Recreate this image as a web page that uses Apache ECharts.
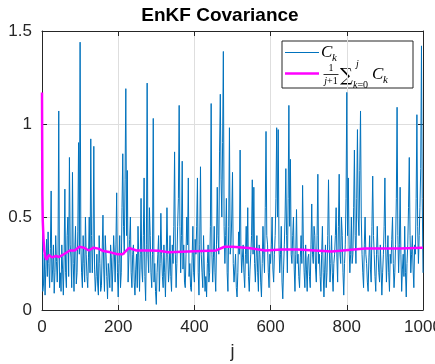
<!DOCTYPE html>
<html>
<head>
<meta charset="utf-8">
<script src="https://cdn.jsdelivr.net/npm/echarts@6/dist/echarts.min.js"></script>
<style>
  html, body { margin: 0; padding: 0; background: #fff; }
  #chart { width: 435px; height: 364px; }
</style>
</head>
<body>
<div id="chart"></div>
<script>
// C_k, read every 2nd step (j = 0, 2, 4, ... 1000)
const stepJ = 2;
const covValues = [
  1.15, 0.10, 0.14, 0.30, 0.08, 0.22, 0.38, 0.18, 0.42, 0.25, 0.12, 0.33, 0.64, 0.15, 0.22, 0.35, 0.09, 0.20, 0.40, 0.26,
  0.15, 0.30, 1.07, 0.12, 0.20, 0.10, 0.35, 0.22, 0.08, 0.28, 0.65, 0.20, 0.12, 0.40, 0.50, 0.18, 0.82, 0.35, 0.28, 0.12,
  0.74, 0.25, 0.10, 0.32, 0.45, 0.14, 0.20, 0.42, 0.90, 0.30, 1.44, 0.35, 0.20, 0.12, 0.40, 0.25, 0.15, 0.50, 0.30, 0.18,
  0.12, 0.28, 0.50, 0.20, 0.92, 0.40, 0.20, 0.35, 0.88, 0.22, 0.10, 0.18, 0.30, 0.14, 0.08, 0.40, 0.25, 0.10, 0.13, 0.32,
  0.51, 0.22, 0.10, 0.40, 0.30, 0.18, 0.06, 0.25, 0.20, 0.12, 0.35, 0.28, 0.10, 0.22, 0.40, 0.30, 0.15, 0.35, 0.63, 0.20,
  0.07, 0.25, 0.40, 0.12, 0.20, 0.55, 0.84, 0.45, 0.30, 0.70, 1.19, 0.40, 0.75, 0.15, 0.28, 0.38, 0.50, 0.20, 0.12, 0.30,
  0.35, 0.15, 0.08, 0.22, 0.30, 0.12, 0.45, 0.28, 0.10, 0.30, 0.60, 0.22, 0.15, 0.40, 0.71, 0.18, 0.05, 0.35, 1.22, 0.30,
  0.20, 0.55, 0.40, 0.20, 0.12, 0.30, 1.03, 0.15, 0.25, 0.10, 0.03, 0.20, 0.30, 0.40, 0.10, 0.25, 0.52, 0.30, 0.18, 0.12,
  0.35, 0.20, 0.07, 0.28, 0.55, 0.30, 0.15, 0.22, 0.40, 0.18, 0.10, 0.35, 0.25, 0.45, 0.85, 0.30, 0.12, 0.25, 0.45, 0.60,
  1.10, 0.45, 0.20, 0.40, 0.80, 0.22, 0.35, 0.15, 0.12, 0.30, 0.50, 0.35, 0.71, 0.18, 0.25, 0.12, 0.10, 0.28, 0.45, 0.20,
  0.15, 0.38, 0.30, 0.45, 0.71, 0.20, 0.08, 0.35, 0.77, 0.30, 0.20, 0.12, 0.40, 0.22, 0.10, 0.18, 0.07, 0.25, 0.35, 0.15,
  0.20, 0.45, 1.11, 0.30, 0.15, 0.28, 0.45, 0.20, 0.10, 0.35, 0.66, 0.40, 0.30, 0.85, 1.16, 0.70, 0.50, 0.90, 1.39, 0.45,
  0.25, 0.40, 0.60, 0.20, 0.10, 0.45, 0.98, 0.30, 0.35, 0.50, 0.74, 0.25, 0.15, 0.22, 0.30, 0.12, 0.07, 0.20, 0.42, 0.30,
  0.86, 0.35, 0.20, 0.28, 0.35, 0.20, 0.12, 0.30, 0.45, 0.25, 0.55, 0.18, 0.10, 0.22, 0.30, 0.40, 0.70, 0.30, 0.66, 0.25,
  0.15, 0.28, 0.40, 0.20, 0.10, 0.35, 0.30, 0.15, 0.07, 0.25, 0.45, 0.30, 0.20, 0.55, 0.96, 0.40, 0.35, 0.20, 0.12, 0.30,
  0.25, 0.35, 0.50, 0.22, 0.15, 0.30, 0.40, 0.60, 0.98, 0.50, 0.97, 0.35, 0.20, 0.30, 0.45, 0.15, 0.06, 0.22, 0.35, 0.50,
  0.76, 0.40, 0.20, 0.60, 1.10, 0.45, 0.81, 0.30, 0.25, 0.40, 0.50, 0.22, 0.10, 0.30, 0.54, 0.25, 0.30, 0.18, 0.12, 0.28,
  0.40, 0.25, 0.67, 0.35, 0.20, 0.12, 0.35, 0.22, 0.10, 0.28, 0.30, 0.18, 0.12, 0.35, 0.57, 0.30, 0.25, 0.45, 0.40, 0.22,
  0.15, 0.40, 0.73, 0.25, 0.30, 0.18, 0.10, 0.30, 0.45, 0.20, 0.07, 0.22, 0.35, 0.12, 0.20, 0.40, 0.70, 0.35, 0.15, 0.25,
  0.40, 0.20, 0.10, 0.25, 0.30, 0.40, 0.55, 0.28, 0.15, 0.45, 0.73, 0.30, 0.25, 0.50, 0.40, 0.20, 0.08, 0.25, 0.35, 0.60,
  1.17, 0.40, 0.71, 0.35, 0.20, 0.30, 0.50, 0.25, 0.30, 0.55, 0.86, 0.40, 0.25, 0.60, 0.97, 0.50, 0.40, 0.75, 1.07, 0.50,
  0.30, 0.20, 0.12, 0.35, 0.50, 0.30, 0.25, 0.15, 0.10, 0.28, 0.40, 0.22, 0.15, 0.45, 0.72, 0.40, 0.30, 0.18, 0.10, 0.30,
  0.45, 0.30, 0.20, 0.15, 0.35, 0.22, 0.08, 0.20, 0.30, 0.45, 0.71, 0.35, 0.15, 0.28, 0.40, 0.20, 0.10, 0.30, 0.25, 0.38,
  0.50, 0.25, 0.12, 0.20, 0.35, 0.60, 1.09, 0.40, 0.20, 0.35, 0.66, 0.30, 0.10, 0.22, 0.30, 0.18, 0.45, 0.20, 0.07, 0.25,
  0.35, 0.55, 0.82, 0.40, 0.20, 0.30, 0.40, 0.22, 0.12, 0.35, 0.30, 0.60, 1.05, 0.45, 0.25, 0.40, 0.55, 0.76, 1.42, 0.60,
  0.20
];

// running mean
const meanJ = [0, 1, 2, 4, 6, 9, 12, 18, 26, 37, 45, 54, 73, 86, 98, 110, 123, 135, 148, 161,
  180, 198, 212, 228, 248, 285, 306, 333, 383, 457, 479, 500, 542, 586, 630, 672, 760, 848, 940, 1000];
const meanValues = [1.17, 0.62, 0.48, 0.38, 0.32, 0.285, 0.27, 0.296, 0.283, 0.29, 0.285, 0.296, 0.32, 0.32, 0.34, 0.335, 0.32, 0.335, 0.33, 0.317,
  0.31, 0.30, 0.30, 0.333, 0.32, 0.32, 0.318, 0.31, 0.315, 0.32, 0.34, 0.34, 0.333, 0.32, 0.325, 0.325, 0.315, 0.33, 0.33, 0.335];

const xTicks = [0, 200, 400, 600, 800, 1000];
const yTicks = [0, 0.5, 1, 1.5];

const covData = covValues.map((v, i) => [i * stepJ, v]);
const meanData = meanJ.map((j, i) => [j, meanValues[i]]);

const textColor = "#262626";
const gridColor = "#dedede";
const tickFont = "Liberation Sans";

const chart = echarts.init(document.getElementById("chart"), null, { renderer: "canvas" });

const frameAxis = {
  axisLine: { show: true, onZero: false, lineStyle: { color: textColor, width: 1 } },
  axisTick: { show: true, inside: true, length: 5, lineStyle: { color: textColor } },
  axisLabel: { show: false },
  splitLine: { show: false },
};

const mathText = (text, x, y, size, extra) => ({
  type: "text",
  style: Object.assign({ text, x, y, font: `italic ${size}px "Liberation Serif"`, fill: "#000", verticalAlign: "middle" }, extra || {}),
});

chart.setOption({
  animation: false,
  backgroundColor: "#fff",
  title: {
    text: "EnKF Covariance",
    left: 220,
    textAlign: "center",
    top: 6,
    padding: 0,
    textStyle: { fontFamily: tickFont, fontWeight: "bold", fontSize: 19, color: "#000" },
  },
  grid: { left: 42, right: 12, top: 31, bottom: 54, outerBoundsMode: "none" },
  xAxis: [
    {
      type: "value",
      min: xTicks[0],
      max: xTicks[xTicks.length - 1],
      interval: 200,
      position: "bottom",
      name: "j",
      nameLocation: "middle",
      nameGap: 33,
      nameTextStyle: { fontFamily: tickFont, fontSize: 18, color: textColor },
      axisLine: { show: true, onZero: false, lineStyle: { color: textColor, width: 1 } },
      axisTick: { show: true, inside: true, length: 5, lineStyle: { color: textColor } },
      axisLabel: { color: textColor, fontFamily: tickFont, fontSize: 17, margin: 9, formatter: (v) => String(v) },
      splitLine: { show: true, lineStyle: { color: gridColor, width: 1 } },
    },
    Object.assign({ type: "value", min: 0, max: 1000, interval: 200, position: "top" }, frameAxis),
  ],
  yAxis: [
    {
      type: "value",
      min: yTicks[0],
      max: yTicks[yTicks.length - 1],
      interval: 0.5,
      position: "left",
      axisLine: { show: true, onZero: false, lineStyle: { color: textColor, width: 1 } },
      axisTick: { show: true, inside: true, length: 5, lineStyle: { color: textColor } },
      axisLabel: { color: textColor, fontFamily: tickFont, fontSize: 17, margin: 10, formatter: (v) => String(v) },
      splitLine: { show: true, lineStyle: { color: gridColor, width: 1 } },
    },
    Object.assign({ type: "value", min: 0, max: 1.5, interval: 0.5, position: "right" }, frameAxis),
  ],
  series: [
    {
      name: "C_k",
      type: "line",
      data: covData,
      showSymbol: false,
      symbol: "none",
      lineStyle: { color: "#0072BD", width: 1 },
      z: 2,
    },
    {
      name: "mean",
      type: "line",
      data: meanData,
      showSymbol: false,
      symbol: "none",
      lineStyle: { color: "#FF00FF", width: 2.5 },
      z: 3,
    },
  ],
  // legend drawn by hand so the LaTeX-like label can be laid out
  graphic: [
    {
      type: "group",
      z: 100,
      children: [
        { type: "rect", shape: { x: 282, y: 41, width: 131, height: 47 }, style: { fill: "#fff", stroke: textColor, lineWidth: 1 } },
        { type: "line", shape: { x1: 285, y1: 52.5, x2: 319, y2: 52.5 }, style: { stroke: "#0072BD", lineWidth: 1 } },
        mathText("C", 321, 53, 17),
        mathText("k", 332, 58, 11),
        { type: "line", shape: { x1: 285, y1: 73.5, x2: 319, y2: 73.5 }, style: { stroke: "#FF00FF", lineWidth: 2.5 } },
        mathText("1", 331, 68, 10, { font: '10px "Liberation Serif"', align: "center" }),
        { type: "line", shape: { x1: 323.5, y1: 74.5, x2: 338.5, y2: 74.5 }, style: { stroke: "#000", lineWidth: 0.8 } },
        mathText("{i|j}+1", 331, 81.5, 10, {
          font: '10px "Liberation Serif"', align: "center",
          rich: { i: { fontStyle: "italic", fontSize: 10, fontFamily: "Liberation Serif" } },
        }),
        mathText("\u2211", 340, 76, 18, { font: '18px "DejaVu Serif"' }),
        mathText("j", 356, 64, 10),
        mathText("{i|k}=0", 353, 85, 10, {
          font: '10px "Liberation Serif"',
          rich: { i: { fontStyle: "italic", fontSize: 10, fontFamily: "Liberation Serif" } },
        }),
        mathText("C", 372, 75, 17),
        mathText("k", 383, 80, 11),
      ],
    },
  ],
});
</script>
</body>
</html>
